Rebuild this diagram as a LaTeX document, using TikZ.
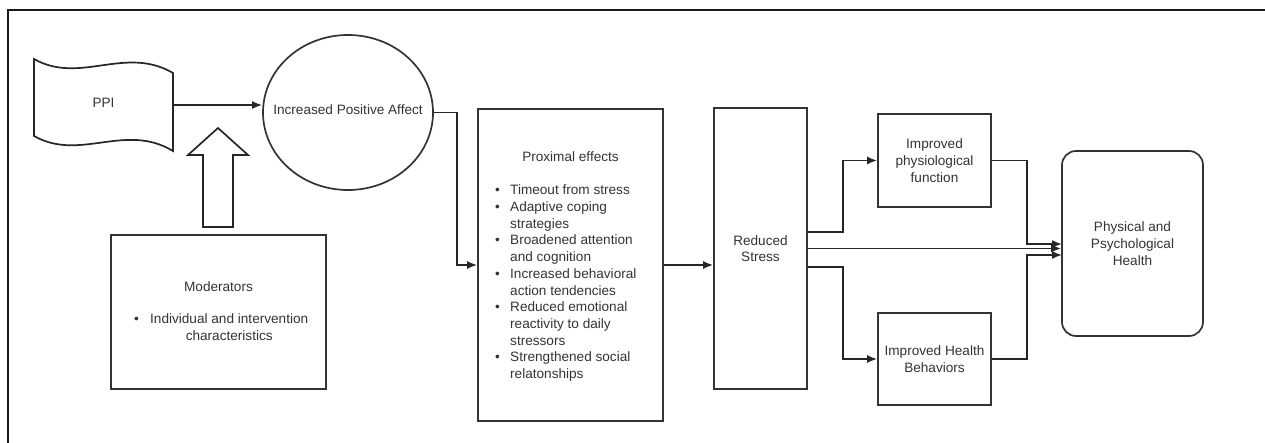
\documentclass[tikz,border=0pt]{standalone}
\usepackage{fontspec}
\setmainfont{Liberation Sans}
\usetikzlibrary{shapes.geometric,arrows.meta}
\begin{document}
\begin{tikzpicture}[x=1pt,y=-1pt,
	every node/.style={font=\fontsize{13.6}{16.7}\selectfont,text=black!80},
	box/.style={draw=black!80,line width=1.7pt,align=center,inner sep=0pt},
	txt/.style={inner sep=0pt,align=center},
	line/.style={draw=black!85,line width=1.7pt}]
	\tikzset{>={Latex[length=10pt,width=8pt]}}
	\useasboundingbox (0,0) rectangle (1265,443);
	\draw[line width=2.8pt,black!90] (8,443) -- (8,10) -- (1265,10);

	% left part
	\draw[line] (34,59) .. controls (80,85) and (125,45) .. (173,73) -- (173,151)
		.. controls (125,122) and (80,162) .. (34,136) -- cycle;
	\node[txt] (ppi) at (103.5,103) {PPI};
	\coordinate (ppiR) at (173,105);

	\node[box,ellipse,minimum width=170pt,minimum height=155pt] (ipa) at (348,112.5) {};
	\node[txt] (ipatext) at (348,110) {Increased Positive Affect};

	\node[box,minimum width=215pt,minimum height=154pt] (mod) at (218.5,312) {};
	\node[txt] (modtitle) at (218.5,287) {Moderators};
	\node[txt,anchor=west] (moditem) at (134,328.5) {\begin{tabular}{@{}p{16pt}@{}c@{}}
		\textbullet & Individual and intervention\\
		 & characteristics
	\end{tabular}};
	\draw[line] (203,227) -- (203,155) -- (188,155) -- (218,128) -- (248,155)
		-- (233,155) -- (233,227) -- cycle;

	% proximal effects
	\node[box,minimum width=185pt,minimum height=312pt] (prox) at (570.5,265) {};
	\node[txt] (proxtitle) at (570.5,157) {Proximal effects};
	\node[txt,anchor=north west] (proxlist) at (495,183) {\begin{tabular}{@{}p{15pt}@{}l@{}}
		\textbullet & Timeout from stress\\
		\textbullet & Adaptive coping\\
		 & strategies\\
		\textbullet & Broadened attention\\
		 & and cognition\\
		\textbullet & Increased behavioral\\
		 & action tendencies\\
		\textbullet & Reduced emotional\\
		 & reactivity to daily\\
		 & stressors\\
		\textbullet & Strengthened social\\
		 & relatonships
	\end{tabular}};

	% right part
	\node[box,minimum width=93pt,minimum height=281pt] (red) at (760.5,248.5) {Reduced\\Stress};
	\node[box,minimum width=113pt,minimum height=93pt] (phys) at (934.5,160.5) {Improved\\physiological\\function};
	\node[box,minimum width=113pt,minimum height=92pt] (beh) at (934.5,359) {Improved Health\\Behaviors};
	\node[box,rounded corners=14pt,minimum width=141pt,minimum height=185pt] (pph) at (1132.5,243.5) {Physical and\\Psychological\\Health};
	\coordinate (in1) at (1062,244);
	\coordinate (in3) at (1062,255);

	\draw[line,->] (ppiR) -- (ppiR -| ipa.west);
	\draw[line,->] (ipa.east) -- ++(23,0) |- (prox.west);
	\draw[line,->] (prox.east) -- (prox.east -| red.west);
	\draw[line,->] ([yshift=16.5pt]red.east) -- ++(35,0) |- (phys.west);
	\draw[line,->] (red.east) -- (red.east -| pph.west);
	\draw[line,->] ([yshift=-18.5pt]red.east) -- ++(35,0) |- (beh.west);
	\draw[line,->] (phys.east) -- ++(35,0) |- (in1);
	\draw[line,->] (beh.east) -- ++(35,0) |- (in3);
\end{tikzpicture}
\end{document}
